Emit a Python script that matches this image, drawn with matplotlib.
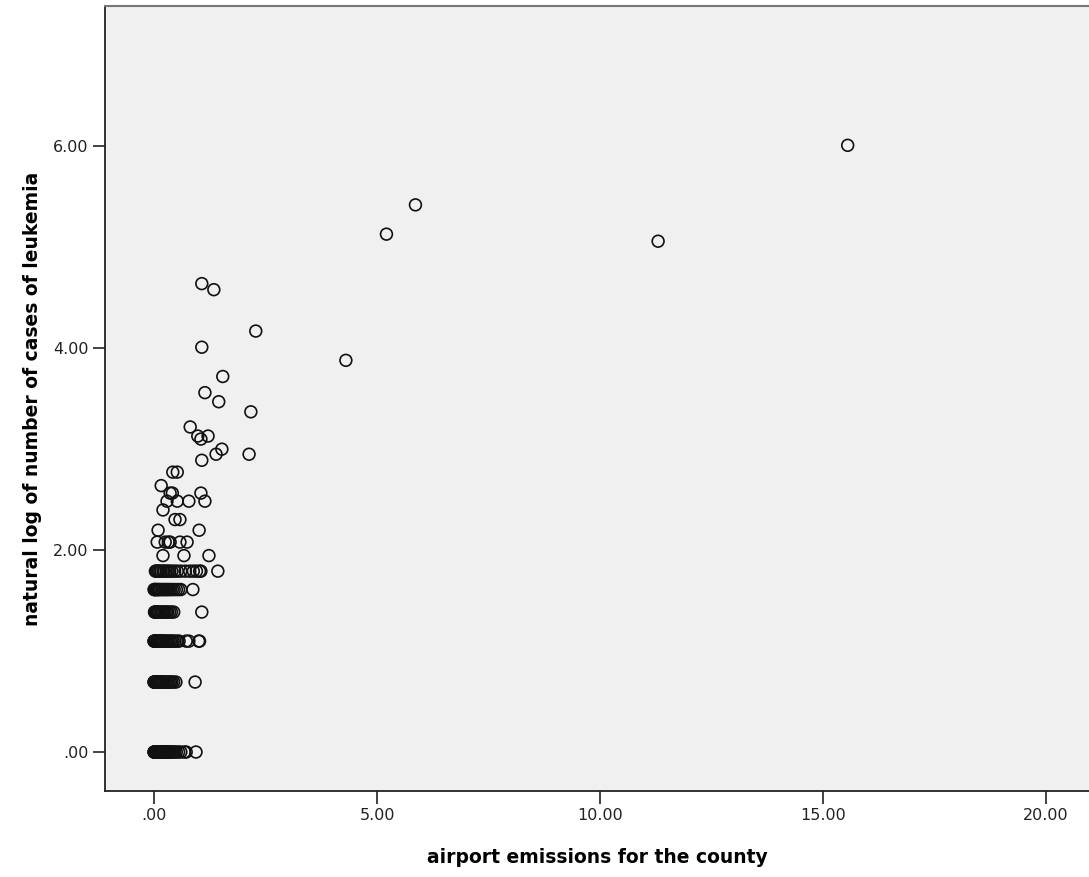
import numpy as np
import matplotlib
matplotlib.use("Agg")
import matplotlib.pyplot as plt

# airport emissions (x) grouped by number of leukemia cases (y = ln(cases))
rows = {
    1: [0.0, 0.0, 0.01, 0.01, 0.02, 0.03, 0.04, 0.05, 0.06, 0.07, 0.08, 0.09,
        0.10, 0.11, 0.12, 0.13, 0.15, 0.16, 0.17, 0.19, 0.20, 0.22, 0.24, 0.25,
        0.27, 0.29, 0.31, 0.33, 0.35, 0.37, 0.40, 0.43, 0.46, 0.50, 0.55,
        0.60, 0.68, 0.72, 0.94],
    2: [0.0, 0.0, 0.01, 0.02, 0.03, 0.05, 0.06, 0.08, 0.10, 0.12, 0.14, 0.16,
        0.18, 0.20, 0.22, 0.25, 0.28, 0.31, 0.34, 0.37, 0.40, 0.44, 0.49, 0.92],
    3: [0.0, 0.0, 0.01, 0.02, 0.03, 0.05, 0.06, 0.08, 0.10, 0.12, 0.14, 0.16,
        0.18, 0.20, 0.22, 0.25, 0.28, 0.31, 0.34, 0.37, 0.40, 0.43, 0.47,
        0.52, 0.56, 0.72, 0.78, 1.00, 1.02],
    4: [0.01, 0.02, 0.04, 0.06, 0.08, 0.10, 0.13, 0.16, 0.19, 0.22, 0.25,
        0.28, 0.31, 0.35, 0.39, 0.44, 1.07],
    5: [0.0, 0.01, 0.02, 0.04, 0.06, 0.08, 0.10, 0.12, 0.15, 0.18, 0.21, 0.24,
        0.27, 0.30, 0.33, 0.37, 0.41, 0.45, 0.50, 0.55, 0.60, 0.87],
    6: [0.03, 0.05, 0.07, 0.10, 0.13, 0.16, 0.20, 0.23, 0.27, 0.31, 0.35,
        0.40, 0.46, 0.52, 0.60, 0.70, 0.80, 0.88, 0.95, 1.02, 1.05, 1.43],
    7: [0.20, 0.67, 1.23],
    8: [0.07, 0.25, 0.32, 0.36, 0.58, 0.74],
    9: [0.09, 1.01],
    10: [0.47, 0.58],
    11: [0.20],
    12: [0.29, 0.52, 0.78, 1.14],
    13: [0.36, 0.41, 1.05],
    14: [0.16],
    16: [0.42, 0.52],
}

# the larger counties, read one by one
extra_x = [15.55, 11.30, 5.86, 5.21, 4.30, 2.28, 2.17, 2.13, 1.07, 1.34, 1.07,
           1.54, 1.14, 1.45, 0.81, 0.98, 1.21, 1.05, 1.52, 1.39, 1.07]
extra_y = [6.01, 5.06, 5.42, 5.13, 3.88, 4.17, 3.37, 2.95, 4.64, 4.58, 4.01,
           3.72, 3.56, 3.47, 3.22, 3.13, 3.13, 3.10, 3.00, 2.95, 2.89]

xs, ys = [], []
for cases, vals in rows.items():
    xs += vals
    ys += [np.log(cases)] * len(vals)
xs += extra_x
ys += extra_y

fig = plt.figure(figsize=(10.89, 8.77), dpi=100)
ax = fig.add_axes([105 / 1089, 1 - 791 / 877, 1 - 105 / 1089, (791 - 6) / 877])
ax.set_facecolor("#f0f0f0")

ax.scatter(xs, ys, s=72, facecolors="none", edgecolors="#111111", linewidths=1.2)

ax.set_xlim(-1.1, 20.96)
ax.set_ylim(-0.386, 7.39)
ax.set_xticks([0, 5, 10, 15, 20])
ax.set_xticklabels([".00", "5.00", "10.00", "15.00", "20.00"])
ax.set_yticks([0, 2, 4, 6])
ax.set_yticklabels([".00", "2.00", "4.00", "6.00"])
ax.tick_params(direction="out", length=9, width=1.2, labelsize=11.5,
               colors="#222222", pad=3)

ax.spines["right"].set_visible(False)
ax.spines["top"].set_color("#777777")
ax.spines["top"].set_linewidth(1.5)
for s in ("left", "bottom"):
    ax.spines[s].set_color("#222222")
    ax.spines[s].set_linewidth(1.3)

ax.set_xlabel("airport emissions for the county", fontsize=13.5,
              fontweight="bold", labelpad=18)
ax.set_ylabel("natural log of number of cases of leukemia", fontsize=13.5,
              fontweight="bold", labelpad=8)

fig.savefig("out.png", dpi=100)
